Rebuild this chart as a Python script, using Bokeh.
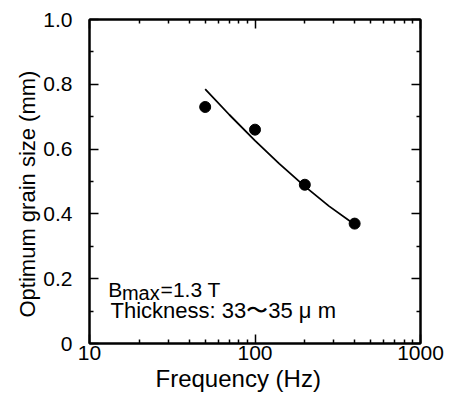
from bokeh.plotting import figure
from bokeh.models import LogAxis, LinearAxis, FixedTicker, Label, Title
from bokeh.embed import file_html
from bokeh.resources import INLINE

# Data
freq_hz = [50, 100, 200, 400]
grain_mm = [0.73, 0.66, 0.49, 0.37]
fit_freq = [50, 70, 100, 140, 200, 280, 400]
fit_grain = [0.785, 0.706, 0.626, 0.555, 0.485, 0.424, 0.367]

x_ticks = [10, 100, 1000]
x_tick_labels = ["10", "100", "1000"]
x_minor = [20, 30, 40, 50, 60, 70, 80, 90, 200, 300, 400, 500, 600, 700, 800, 900]
y_ticks = [0, 0.2, 0.4, 0.6, 0.8, 1.0]
y_tick_labels = ["0", "0.2", "0.4", "0.6", "0.8", "1.0"]
y_minor = [0.1, 0.3, 0.5, 0.7, 0.9]

FONT = "Liberation Sans"

p = figure(x_axis_type="log", x_range=(10, 1000), y_range=(0, 1),
           width=450, height=393, output_backend="svg", toolbar_location=None,
           min_border_left=89, min_border_right=30, min_border_top=19,
           min_border_bottom=50)
p.grid.visible = False
p.outline_line_color = "black"
p.outline_line_width = 2
p.background_fill_color = "white"
p.border_fill_color = "white"

xt = FixedTicker(ticks=x_ticks, minor_ticks=x_minor)
yt = FixedTicker(ticks=y_ticks, minor_ticks=y_minor)

def style(ax, labels=True):
    ax.axis_line_color = "black"
    ax.axis_line_width = 2
    ax.major_tick_in = 9
    ax.major_tick_out = 0
    ax.minor_tick_in = 4
    ax.minor_tick_out = 0
    ax.major_tick_line_width = 1.5
    ax.minor_tick_line_width = 1.5
    ax.major_tick_line_color = "black"
    ax.minor_tick_line_color = "black"
    ax.major_label_text_font = FONT
    ax.major_label_text_color = "black"
    if not labels:
        ax.major_label_text_color = None
        ax.major_label_text_font_size = "1px"
        ax.major_label_standoff = 0

xa = p.xaxis[0]
xa.ticker = xt
xa.major_label_overrides = dict(zip(x_ticks, x_tick_labels))
style(xa)
xa.major_label_text_font_size = "21px"
xa.major_label_standoff = 2

ya = p.yaxis[0]
ya.ticker = yt
ya.major_label_overrides = dict(zip(y_ticks, y_tick_labels))
style(ya)
ya.major_label_text_font_size = "21px"
ya.major_label_standoff = 17

top = LogAxis(ticker=FixedTicker(ticks=x_ticks, minor_ticks=x_minor))
style(top, labels=False)
p.add_layout(top, "above")
right = LinearAxis(ticker=FixedTicker(ticks=y_ticks, minor_ticks=y_minor))
style(right, labels=False)
p.add_layout(right, "right")

# axis titles, placed as in the reference
xtitle = Title(text="Frequency (Hz)", align="left", offset=66, standoff=0,
               text_font=FONT, text_font_size="24px", text_font_style="normal",
               text_color="black")
p.add_layout(xtitle, "below")
ytitle = Title(text="Optimum grain size (mm)", align="left", offset=26, standoff=2,
               text_font=FONT, text_font_size="22px", text_font_style="normal",
               text_color="black")
p.add_layout(ytitle, "left")

p.line(fit_freq, fit_grain, line_color="black", line_width=1.8)
p.scatter(freq_hz, grain_mm, marker="circle", size=11, fill_color="black", line_color="black")

def lab(x, y, text, size):
    p.add_layout(Label(x=x, y=y, text=text, text_font=FONT, text_font_size=size,
                       text_font_style="normal", text_baseline="alphabetic",
                       text_align="left", text_color="black"))

lab(13.0, 0.167, "B", "21px")
lab(15.7, 0.155, "max", "20px")
lab(26.9, 0.167, "=1.3 T", "21px")
lab(13.4, 0.102, "Thickness: 33\u301c35 \u03bc m", "22px")

open("out.html", "w").write(file_html(p, INLINE))
